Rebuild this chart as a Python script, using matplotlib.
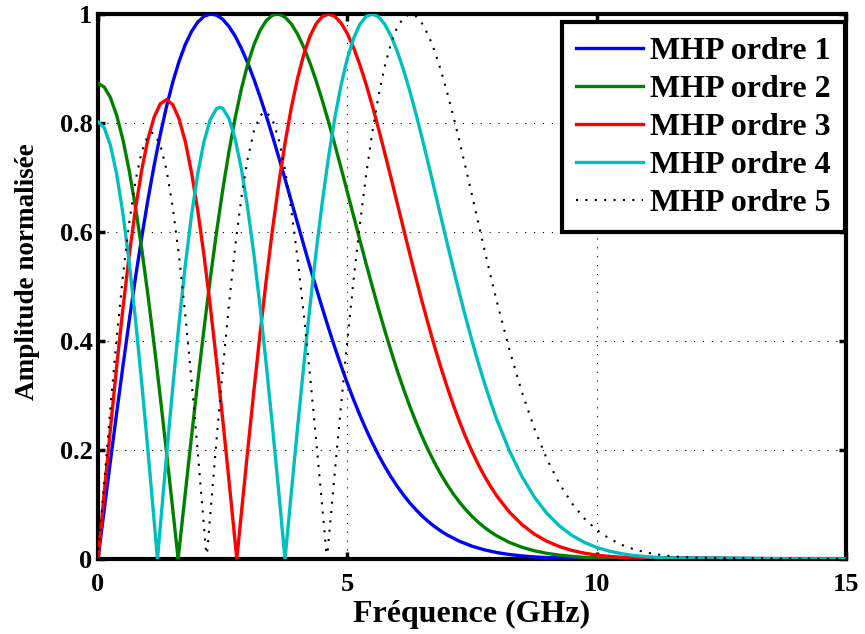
import matplotlib
matplotlib.use("Agg")
import matplotlib.pyplot as plt

# Spectres normalisés des impulsions MHP (ordres 1 a 5)
freq1 = [0, 0.125, 0.25, 0.375, 0.5, 0.625, 0.75, 0.875,
         1.0, 1.125, 1.25, 1.375, 1.5, 1.625, 1.75, 1.875,
         2.0, 2.125, 2.25, 2.375, 2.5, 2.625, 2.75, 2.875,
         3.0, 3.125, 3.25, 3.375, 3.5, 3.625, 3.75, 3.875,
         4.0, 4.125, 4.25, 4.375, 4.5, 4.625, 4.75, 4.875,
         5.0, 5.125, 5.25, 5.375, 5.5, 5.625, 5.75, 5.875,
         6.0, 6.125, 6.25, 6.375, 6.5, 6.625, 6.75, 6.875,
         7.0, 7.25, 7.5, 7.75, 8.0, 8.25, 8.5, 8.75,
         9.0, 15]
amp1 = [0, 0.0905, 0.1803, 0.2684, 0.3540, 0.4366, 0.5152, 0.5894,
        0.6585, 0.7220, 0.7795, 0.8307, 0.8752, 0.9129, 0.9439, 0.9678,
        0.9851, 0.9957, 1.0000, 0.9980, 0.9904, 0.9773, 0.9595, 0.9370,
        0.9107, 0.8809, 0.8481, 0.8129, 0.7757, 0.7370, 0.6974, 0.6571,
        0.6167, 0.5764, 0.5366, 0.4976, 0.4597, 0.4231, 0.3879, 0.3544,
        0.3225, 0.2925, 0.2643, 0.2379, 0.2135, 0.1908, 0.1699, 0.1509,
        0.1335, 0.1176, 0.1033, 0.0905, 0.0789, 0.0686, 0.0595, 0.0514,
        0.0442, 0.0325, 0.0235, 0.0168, 0.0118, 0.0082, 0.0057, 0.0038,
        0.0026, 0]

freq2 = [0, 0.125, 0.25, 0.375, 0.5, 0.625, 0.75, 0.875,
         1.0, 1.125, 1.25, 1.375, 1.5, 1.607, 1.625, 1.75,
         1.875, 2.0, 2.125, 2.25, 2.375, 2.5, 2.625, 2.75,
         2.875, 3.0, 3.125, 3.25, 3.375, 3.5, 3.593, 3.625,
         3.75, 3.875, 4.0, 4.125, 4.25, 4.375, 4.5, 4.625,
         4.75, 4.875, 5.0, 5.125, 5.25, 5.375, 5.5, 5.625,
         5.75, 5.875, 6.0, 6.125, 6.25, 6.375, 6.5, 6.625,
         6.75, 6.875, 7.0, 7.125, 7.25, 7.375, 7.5, 7.625,
         7.75, 7.875, 8.0, 8.25, 8.5, 8.75, 9.0, 9.25,
         9.5, 9.75, 10.0, 15]
amp2 = [0.8726, 0.8660, 0.8463, 0.8139, 0.7693, 0.7131, 0.6464, 0.5700,
        0.4854, 0.3937, 0.2963, 0.1947, 0.0904, 0, 0.0152, 0.1205,
        0.2243, 0.3251, 0.4218, 0.5133, 0.5985, 0.6766, 0.7470, 0.8092,
        0.8626, 0.9073, 0.9430, 0.9698, 0.9880, 0.9979, 1.0, 0.9998,
        0.9943, 0.9819, 0.9634, 0.9392, 0.9104, 0.8772, 0.8406, 0.8014,
        0.7600, 0.7172, 0.6735, 0.6295, 0.5856, 0.5423, 0.5001, 0.4590,
        0.4195, 0.3819, 0.3462, 0.3125, 0.2809, 0.2516, 0.2244, 0.1994,
        0.1764, 0.1555, 0.1366, 0.1195, 0.1042, 0.0905, 0.0783, 0.0675,
        0.0580, 0.0496, 0.0423, 0.0304, 0.0216, 0.0151, 0.0104, 0.0071,
        0.0048, 0.0031, 0.0021, 0]

freq3 = [0, 0.125, 0.25, 0.375, 0.5, 0.625, 0.75, 0.875,
         1.0, 1.125, 1.25, 1.375, 1.5, 1.625, 1.75, 1.875,
         2.0, 2.125, 2.25, 2.375, 2.5, 2.625, 2.75, 2.7835,
         2.875, 3.0, 3.125, 3.25, 3.375, 3.5, 3.625, 3.75,
         3.875, 4.0, 4.125, 4.25, 4.375, 4.5, 4.625, 4.75,
         4.875, 5.0, 5.125, 5.25, 5.375, 5.5, 5.625, 5.75,
         5.875, 6.0, 6.125, 6.25, 6.375, 6.5, 6.625, 6.75,
         6.875, 7.0, 7.125, 7.25, 7.375, 7.5, 7.625, 7.75,
         7.875, 8.0, 8.25, 8.5, 8.75, 9.0, 9.25, 9.5,
         9.75, 10.0, 10.25, 10.5, 10.75, 11.0, 15]
amp3 = [0, 0.1213, 0.2400, 0.3537, 0.4599, 0.5564, 0.6414, 0.7130,
        0.7698, 0.8108, 0.8353, 0.8429, 0.8336, 0.8077, 0.7661, 0.7096,
        0.6396, 0.5575, 0.4652, 0.3643, 0.2570, 0.1452, 0.0308, 0,
        0.0840, 0.1975, 0.3079, 0.4135, 0.5130, 0.6050, 0.6885, 0.7629,
        0.8273, 0.8815, 0.9253, 0.9589, 0.9821, 0.9956, 1.0, 0.9956,
        0.9834, 0.9639, 0.9383, 0.9071, 0.8714, 0.8321, 0.7897, 0.7452,
        0.6996, 0.6531, 0.6067, 0.5605, 0.5156, 0.4718, 0.4298, 0.3897,
        0.3518, 0.3161, 0.2828, 0.2519, 0.2235, 0.1975, 0.1736, 0.1521,
        0.1327, 0.1153, 0.0860, 0.0633, 0.0457, 0.0326, 0.0229, 0.0158,
        0.0108, 0.0072, 0.0048, 0.0031, 0.0020, 0.0013, 0]

freq4 = [0, 0.125, 0.25, 0.375, 0.5, 0.625, 0.75, 0.875,
         1.0, 1.125, 1.1924, 1.25, 1.375, 1.5, 1.625, 1.75,
         1.875, 2.0, 2.125, 2.25, 2.375, 2.442, 2.5, 2.625,
         2.75, 2.875, 3.0, 3.125, 3.25, 3.375, 3.5, 3.625,
         3.75, 3.875, 4.0, 4.125, 4.25, 4.375, 4.5, 4.625,
         4.75, 4.875, 5.0, 5.125, 5.25, 5.375, 5.5, 5.625,
         5.75, 5.875, 6.0, 6.125, 6.25, 6.375, 6.5, 6.625,
         6.75, 6.875, 7.0, 7.125, 7.25, 7.375, 7.5, 7.625,
         7.75, 7.875, 8.0, 8.25, 8.5, 8.75, 9.0, 9.25,
         9.5, 9.75, 10.0, 10.25, 10.5, 10.75, 11.0, 11.25,
         11.5, 15]
amp4 = [0.8022, 0.7913, 0.7589, 0.7059, 0.6338, 0.5446, 0.4408, 0.3251,
        0.2007, 0.0709, 0, 0.0607, 0.1907, 0.3158, 0.4326, 0.5385,
        0.6306, 0.7069, 0.7657, 0.8058, 0.8262, 0.8290, 0.8270, 0.8083,
        0.7709, 0.7160, 0.6450, 0.5600, 0.4629, 0.3560, 0.2419, 0.1229,
        0, 0.1199, 0.2392, 0.3542, 0.4631, 0.5643, 0.6564, 0.7386,
        0.8099, 0.8699, 0.9183, 0.9552, 0.9808, 0.9955, 1.0, 0.9950,
        0.9812, 0.9599, 0.9318, 0.8980, 0.8593, 0.8172, 0.7720, 0.7251,
        0.6770, 0.6285, 0.5802, 0.5329, 0.4868, 0.4426, 0.4005, 0.3603,
        0.3227, 0.2878, 0.2554, 0.1985, 0.1516, 0.1137, 0.0839, 0.0610,
        0.0436, 0.0306, 0.0212, 0.0145, 0.0097, 0.0064, 0.0042, 0.0027,
        0.0017, 0]

freq5 = [0, 0.125, 0.25, 0.375, 0.5, 0.625, 0.75, 0.875,
         1.0, 1.082, 1.125, 1.25, 1.375, 1.5, 1.625, 1.75,
         1.875, 2.0, 2.125, 2.1786, 2.25, 2.375, 2.5, 2.625,
         2.75, 2.875, 3.0, 3.125, 3.25, 3.353, 3.375, 3.5,
         3.625, 3.75, 3.875, 4.0, 4.125, 4.25, 4.375, 4.5,
         4.5913, 4.625, 4.75, 4.875, 5.0, 5.125, 5.25, 5.375,
         5.5, 5.625, 5.75, 5.875, 6.0, 6.125, 6.25, 6.264,
         6.375, 6.5, 6.625, 6.75, 6.875, 7.0, 7.125, 7.25,
         7.375, 7.5, 7.625, 7.75, 7.875, 8.0, 8.25, 8.5,
         8.75, 9.0, 9.25, 9.5, 9.75, 10.0, 10.25, 10.5,
         10.75, 11.0, 11.25, 11.5, 11.75, 12.0, 15]
amp5 = [0, 0.1414, 0.2782, 0.4057, 0.5199, 0.6168, 0.6934, 0.7472,
        0.7766, 0.7821, 0.7807, 0.7594, 0.7136, 0.6449, 0.5557, 0.4489,
        0.3280, 0.1968, 0.0596, 0, 0.0794, 0.2161, 0.3463, 0.4662,
        0.5727, 0.6625, 0.7337, 0.7843, 0.8134, 0.8208, 0.8205, 0.8058,
        0.7701, 0.7148, 0.6416, 0.5527, 0.4506, 0.3381, 0.2178, 0.0928,
        0, 0.0343, 0.1606, 0.2838, 0.4014, 0.5117, 0.6128, 0.7034,
        0.7826, 0.8495, 0.9040, 0.9460, 0.9756, 0.9933, 0.9997, 1.0,
        0.9960, 0.9825, 0.9610, 0.9321, 0.8970, 0.8568, 0.8129, 0.7659,
        0.7171, 0.6675, 0.6171, 0.5673, 0.5188, 0.4718, 0.3841, 0.3065,
        0.2395, 0.1838, 0.1387, 0.1027, 0.0747, 0.0534, 0.0376, 0.0260,
        0.0177, 0.0119, 0.0079, 0.0051, 0.0033, 0.0021, 0]

labels = ["MHP ordre 1", "MHP ordre 2", "MHP ordre 3", "MHP ordre 4",
          "MHP ordre 5"]
x_ticks = [0, 5, 10, 15]
y_ticks = [0, 0.2, 0.4, 0.6, 0.8, 1.0]
y_tick_labels = ["0", "0.2", "0.4", "0.6", "0.8", "1"]

plt.rcParams["font.family"] = "serif"
plt.rcParams["font.serif"] = ["Liberation Serif", "DejaVu Serif"]
plt.rcParams["font.weight"] = "bold"

fig = plt.figure(figsize=(8.65, 6.34), dpi=100)
ax = fig.add_axes([98 / 865, 1 - 559 / 634, 748 / 865, 545 / 634])

lw = 2.4
ax.plot(freq1, amp1, color=(0, 0, 1), lw=lw, label=labels[0], zorder=3)
ax.plot(freq2, amp2, color=(0, 0.5, 0), lw=lw, label=labels[1], zorder=3)
ax.plot(freq3, amp3, color=(1, 0, 0), lw=lw, label=labels[2], zorder=3)
ax.plot(freq4, amp4, color=(0, 0.75, 0.75), lw=lw, label=labels[3], zorder=3)
ax.plot(freq5, amp5, color="k", lw=1.5, linestyle=(0, (1, 3.5)),
        label=labels[4], zorder=3)

ax.set_xlim(0, 15)
ax.set_ylim(0, 1)
ax.set_xticks(x_ticks)
ax.set_yticks(y_ticks)
ax.set_yticklabels(y_tick_labels)

ax.grid(True, color="k", linestyle=(0, (1, 7)), linewidth=0.8)
ax.tick_params(direction="in", length=5, width=2.5, labelsize=19,
               top=True, right=True)
ax.tick_params(axis="x", pad=10)
ax.tick_params(axis="y", pad=4)
for sp in ax.spines.values():
    sp.set_linewidth(3)

ax.set_xlabel("Fréquence (GHz)", fontsize=23, fontweight="bold", labelpad=3)
ax.set_ylabel("Amplitude normalisée", fontsize=19.5, fontweight="bold")
ax.yaxis.set_label_coords(-0.077, 0.528)

leg = ax.legend(loc="upper right", bbox_to_anchor=(0.998, 0.985),
                borderaxespad=0, fontsize=23, fancybox=False,
                framealpha=1, edgecolor="k", handlelength=2.1,
                handletextpad=0.2, labelspacing=0.27, borderpad=0.45)
leg.get_frame().set_linewidth(3)
leg.set_zorder(5)

fig.savefig("out.png", dpi=100)
